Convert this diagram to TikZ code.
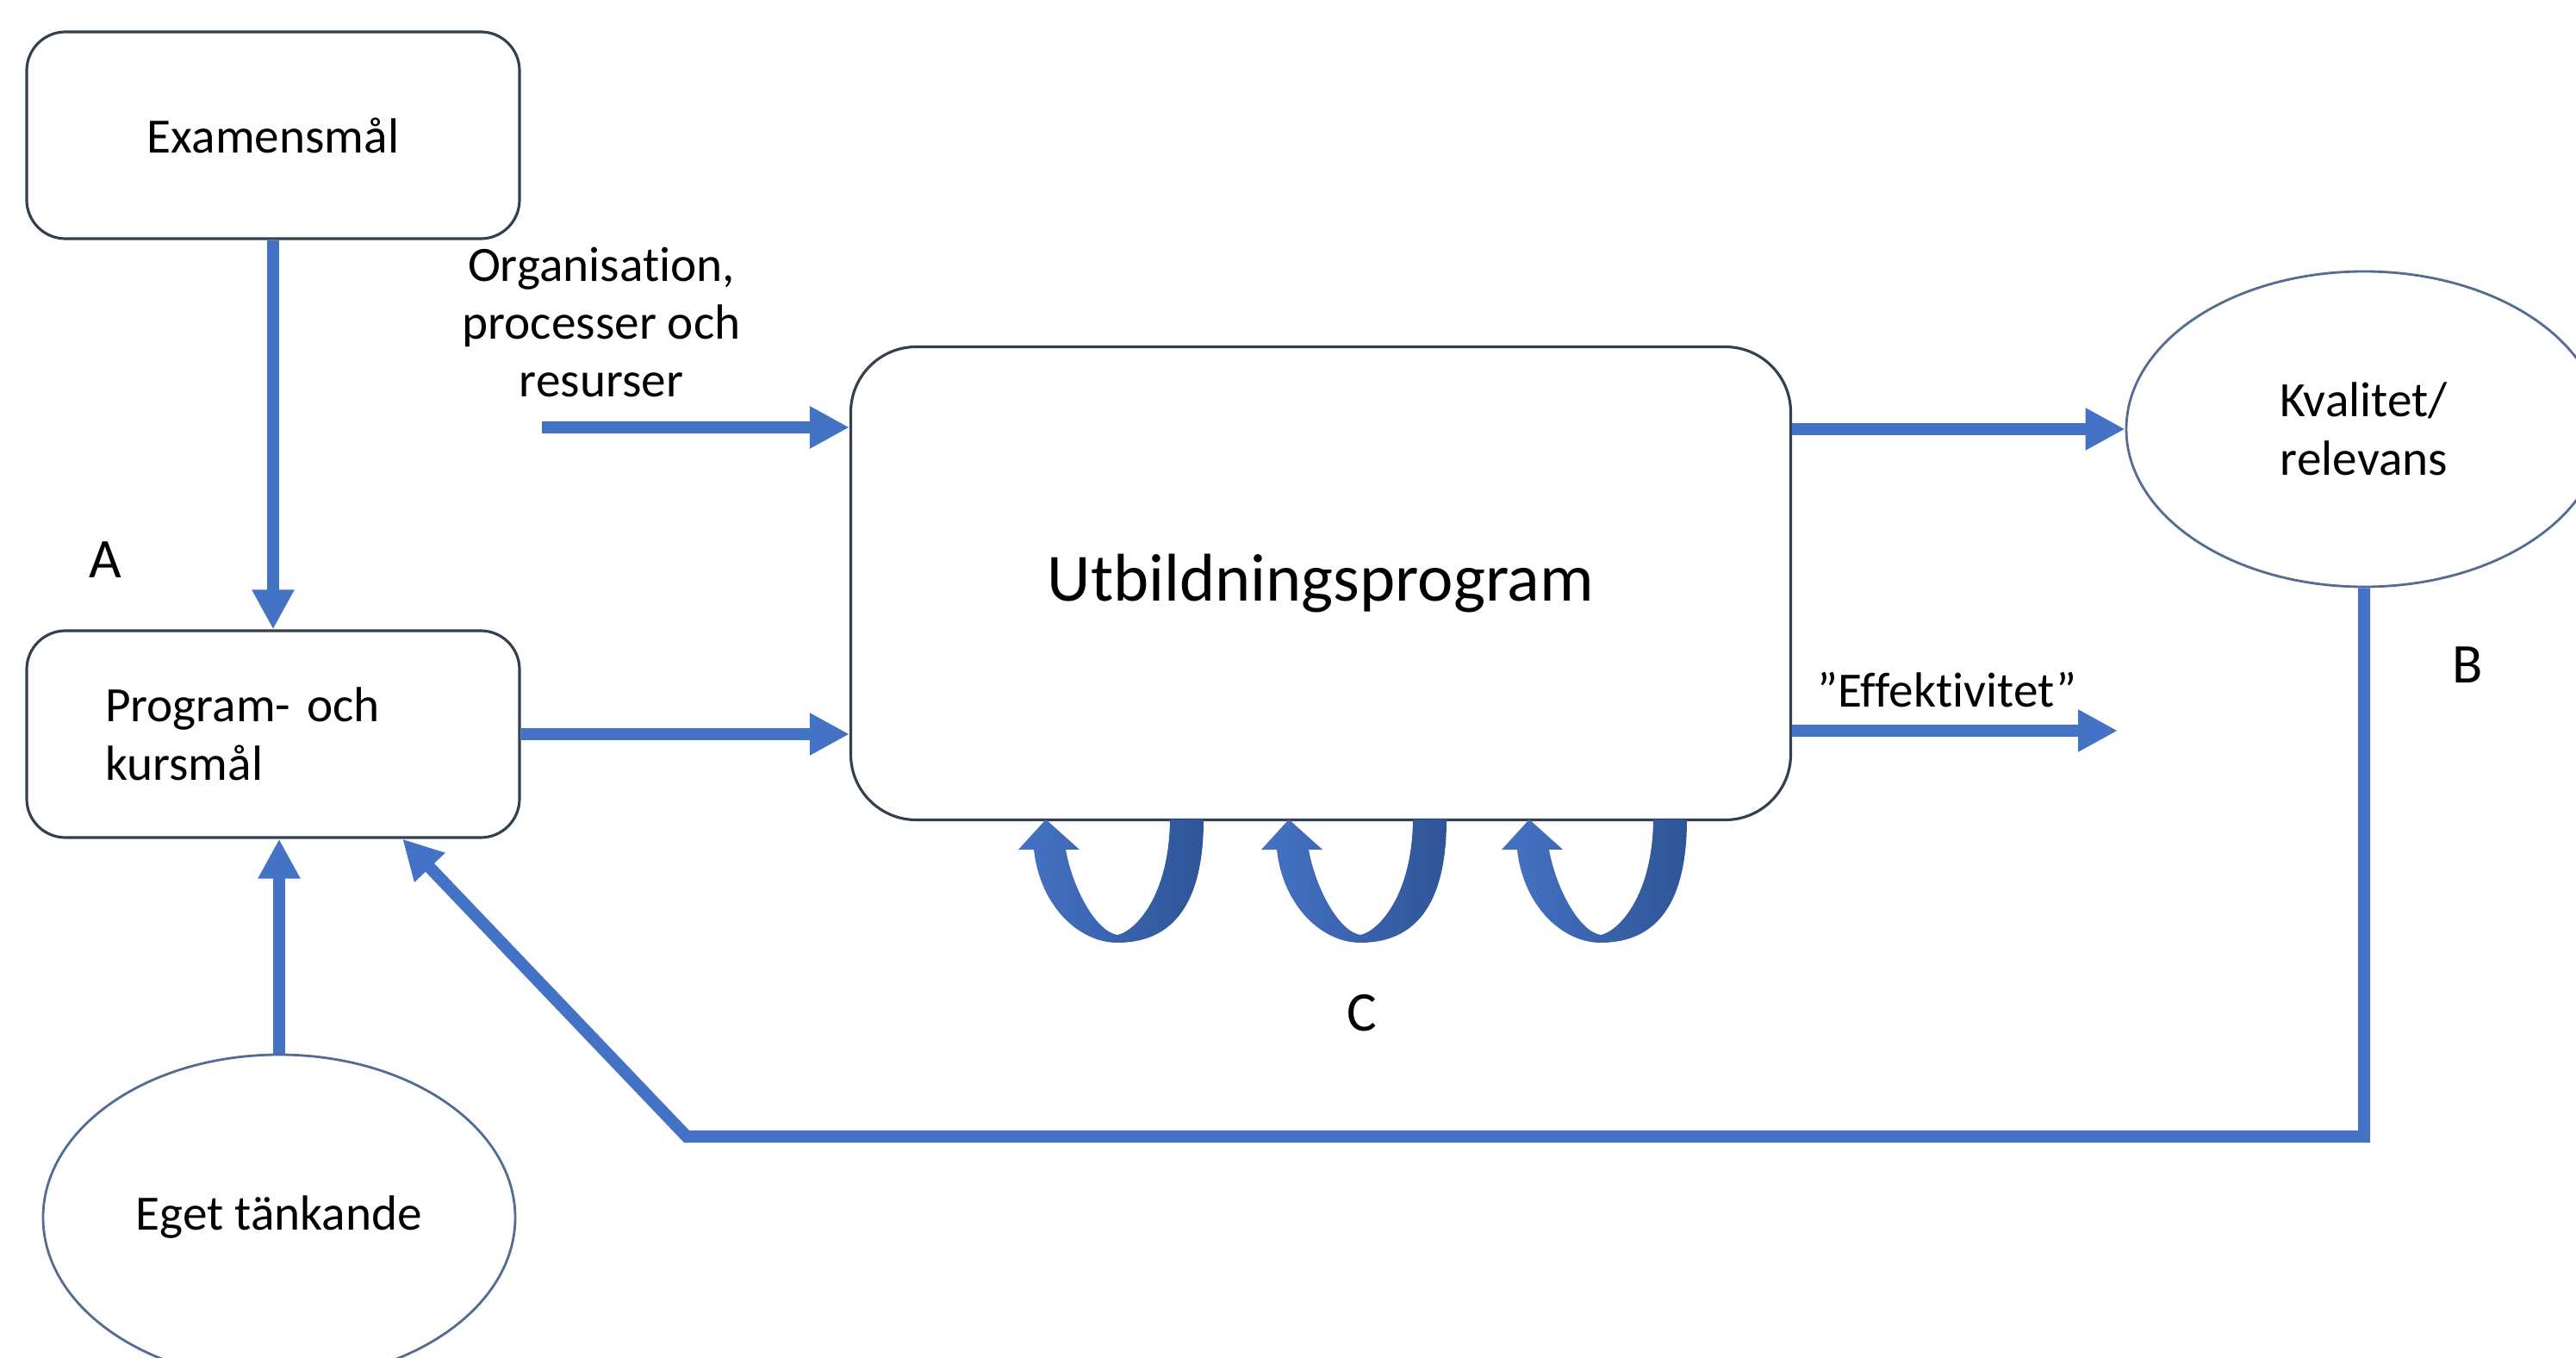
\documentclass[tikz,border=0pt]{standalone}
\usepackage{fontspec}
\setmainfont{Carlito}[Ligatures=NoCommon]
\usetikzlibrary{arrows.meta,shapes.geometric}

\definecolor{linkblue}{RGB}{68,114,196}
\definecolor{loopdark}{RGB}{47,85,151}
\definecolor{boxgrey}{RGB}{52,64,80}
\definecolor{ovalgrey}{RGB}{84,108,148}

\begin{document}
\begin{tikzpicture}[
	goal/.style={draw=boxgrey, line width=0.9pt, rounded corners=0.45cm, minimum width=5.72cm, minimum height=2.4cm},
	oval/.style={draw=ovalgrey, line width=0.8pt, ellipse, inner sep=0pt},
	link/.style={draw=linkblue, line width=4pt, -{Triangle[width=0.46cm,length=0.46cm]}},
	txt/.style={font=\fontsize{16.3}{19.2}\selectfont},
	tag/.style={font=\fontsize{18.5}{22}\selectfont}]
	\useasboundingbox (0,0) rectangle (29.9,15.75);
	\node[goal, txt] (exam) at (3.17,14.18) {Examensmål};
	\node[goal, txt, text width=3.9cm, align=left] (prog) at (3.17,7.23) {Program- och\\kursmål};
	\node[oval, txt, minimum width=5.48cm, minimum height=3.78cm] (eget) at (3.24,1.62) {Eget tänkande};
	\node[draw=boxgrey, line width=0.9pt, rounded corners=0.76cm, minimum width=10.91cm, minimum height=5.49cm, font=\fontsize{22.3}{26}\selectfont] (utb) at (15.33,8.98) {Utbildningsprogram};
	\node[oval, txt, minimum width=5.52cm, minimum height=3.66cm, align=left] (kval) at (27.44,10.77) {Kvalitet/\\relevans};
	\node[txt, align=center] (org) at (6.98,12.01) {Organisation,\\processer och\\resurser};
	\node[txt] (eff) at (22.60,7.74) {”Effektivitet”};
	\node[tag] (lblA) at (1.22,9.25) {A};
	\node[tag] (lblB) at (28.64,8.03) {B};
	\node[tag] (lblC) at (15.81,3.99) {C};
	\coordinate (orgstart) at (6.29,10.79);
	\coordinate (effend) at (24.58,7.27);
	\coordinate (fbturn) at (7.97,2.56);
	\draw[link] (exam) -- (prog);
	\draw[link] (eget.north) -- (eget.north |- prog.south);
	\draw[link] (prog) -- (prog -| utb.west);
	\draw[link] (orgstart) -- (orgstart -| utb.west);
	\draw[link] (utb.east |- kval) -- (kval.west);
	\draw[link] (utb.east |- effend) -- (effend);
	\draw[link] (kval.south) |- (fbturn) -- (prog.-39);
	\foreach \ux in {12.97,15.79,18.58}
		\shade[shift={(\ux,6.24)}, left color=linkblue, right color=loopdark]
			(1,0) .. controls (1,-1.1) and (0.55,-1.43) .. (0,-1.43)
			.. controls (-0.45,-1.43) and (-0.9,-1) .. (-0.97,-0.35)
			-- (-1.15,-0.35) -- (-0.83,0) -- (-0.44,-0.35) -- (-0.6,-0.35)
			.. controls (-0.52,-0.8) and (-0.25,-1.3) .. (0,-1.34)
			.. controls (0.2,-1.3) and (0.6,-0.9) .. (0.61,0) -- cycle;
\end{tikzpicture}
\end{document}
